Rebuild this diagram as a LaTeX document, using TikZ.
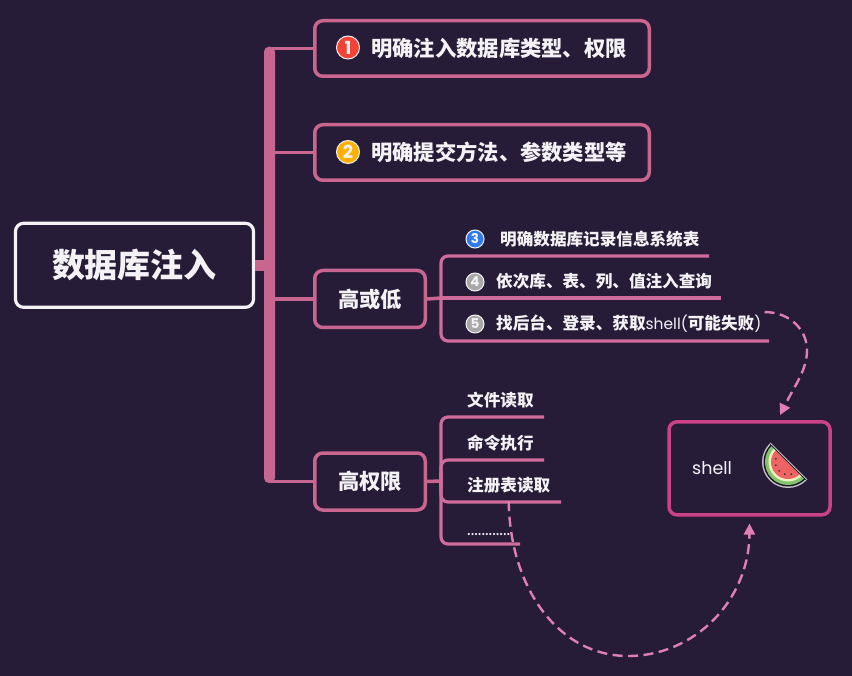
\documentclass[tikz,border=0pt]{standalone}
\usepackage{fontspec}
\setmainfont{Noto Sans CJK SC}
\newfontfamily\latinfont{Poppins}
\usetikzlibrary{positioning,calc,arrows.meta}
\definecolor{night}{HTML}{261C38}
\definecolor{paper}{HTML}{F4F2F5}
\definecolor{twigpink}{HTML}{C8668F}
\definecolor{leafpink}{HTML}{D06C9B}
\definecolor{shellpink}{HTML}{CB4288}
\definecolor{dashpink}{HTML}{E07FB4}
\definecolor{colone}{HTML}{F44336}
\definecolor{coltwo}{HTML}{FFB000}
\definecolor{colthree}{HTML}{2F7BEE}
\definecolor{colgrey}{HTML}{A8A8A8}
\definecolor{rindgreen}{HTML}{82C46C}
\definecolor{rindpale}{HTML}{EEF3BE}
\definecolor{melonred}{HTML}{EE6464}
\newcommand{\fsize}[1]{\fontsize{#1}{#1}\selectfont}
\tikzset{
  rootbox/.style={draw=paper,line width=3.2pt,fill=night,rounded corners=8pt,
    minimum width=238pt,minimum height=84pt,text=paper,font=\fsize{33}\bfseries},
  topicbox/.style={draw=twigpink,line width=3.5pt,fill=night,rounded corners=8pt,
    text=paper,font=\fsize{21.3}\bfseries,inner sep=0pt},
  twig/.style={draw=twigpink,line width=3.5pt},
  leafline/.style={draw=leafpink,line width=3.2pt,rounded corners=7pt},
  leaftext/.style={text=paper,font=\fsize{16.6}\bfseries,anchor=west,inner sep=0pt},
  numdot/.style={circle,draw=paper,line width=1pt,text=paper,inner sep=0pt,minimum size=18pt,
    font=\latinfont\bfseries\fsize{13.5}},
  bigdot/.style={numdot,minimum size=23pt,font=\latinfont\bfseries\fsize{18}},
  dashlink/.style={draw=dashpink,line width=2.4pt,dash pattern=on 10pt off 5.5pt,
    -{Triangle[length=11pt,width=11pt,fill=dashpink]}},
}

\begin{document}
\begin{tikzpicture}[x=1pt,y=-1pt]
  \useasboundingbox (0,0) rectangle (852,676);
  \fill[night] (0,0) rectangle (852,676);

  % --- Fixed joints ---
  \coordinate (spinetop) at (269.5,48.5);
  \coordinate (lowfork) at (441,298);
  \coordinate (highfork) at (441,481);

  % --- Main boxes ---
  \node[rootbox] (root) at (134.5,265.3) {数据库注入};
  \node[topicbox,minimum width=334.5pt,minimum height=55.5pt] (clear) at (482,48.5) {};
  \node[topicbox,minimum width=334.5pt,minimum height=55.5pt] (submit) at (482,152.5) {};
  \node[topicbox,minimum width=110.5pt,minimum height=57pt] (low) at (370,299) {高或低};
  \node[topicbox,minimum width=110.5pt,minimum height=57pt] (high) at (370,481.5) {高权限};
  \node[draw=shellpink,line width=3.5pt,rounded corners=8pt,minimum width=161pt,
    minimum height=93pt] (shellbox) at (749.5,468.3) {};

  % --- Spine and branches ---
  \fill[twigpink,rounded corners=5pt] (264,46.7) rectangle (275,483);
  \draw[twigpink,line width=11.5pt] (root.east) -- (root.east -| spinetop);
  \draw[twig] (clear.west) -- (clear.west -| spinetop);
  \draw[twig] (submit.west) -- (submit.west -| spinetop);
  \draw[twig] (low.west) -- (low.west -| spinetop);
  \draw[twig] (high.west) -- (high.west -| spinetop);

  % --- Texts of the two long boxes ---
  \node[bigdot,fill=colone] (dotone) at (348,47.5) {1};
  \node[leaftext,font=\fsize{21.3}\bfseries] (clearlabel) at (371,48) {明确注入数据库类型、权限};
  \node[bigdot,fill=coltwo] (dottwo) at (348,152) {2};
  \node[leaftext,font=\fsize{21.3}\bfseries] (submitlabel) at (371,152) {明确提交方法、参数类型等};

  % --- Leaves of the low branch ---
  \draw[twig] (low.east) -- (lowfork);
  \draw[leafline] (709,256) -- (441,256) -- (441,341) -- (769,341);
  \draw[leafline] (lowfork) -- (721,298);
  \node[numdot,fill=colthree] (dotthree) at (475,239) {3};
  \node[leaftext] (tables) at (500,239) {明确数据库记录信息系统表};
  \node[numdot,fill=colgrey] (dotfour) at (475,282) {4};
  \node[leaftext] (inject) at (496,281.5) {依次库、表、列、值注入查询};
  \node[numdot,fill=colgrey] (dotfive) at (475,324) {5};
  \node[leaftext] (backend) at (496,324) {找后台、登录、获取{\latinfont\mdseries\fsize{15.5}shell(}可能失败{\latinfont\mdseries\fsize{15.5})}};

  % --- Leaves of the high branch ---
  \draw[twig] (high.east) -- (highfork);
  \draw[leafline] (544,417) -- (441,417) -- (441,544) -- (520,544);
  \draw[leafline] (544,460) -- (441,460) -- (441,490);
  \draw[leafline] (561,502) -- (441,502) -- (441,472);
  \node[leaftext] (readfile) at (467,400) {文件读取};
  \node[leaftext] (runcmd) at (467,443) {命令执行};
  \node[leaftext] (regread) at (467,485) {注册表读取};
  \node[leaftext,font=\fsize{10.2}\bfseries] (dots) at (467,534.5) {............};

  % --- Shell box content ---
  \node[text=paper,font=\latinfont\fsize{17.5},inner sep=0pt,anchor=west] (shelltext) at (692,468) {shell};
  \coordinate (melon) at (788,462);
  \fill[colgrey!70!white] (melon)+(135:26pt) arc[start angle=135,end angle=315,radius=26pt] -- cycle;
  \fill[night!70!black] (melon)+(135:24.5pt) arc[start angle=135,end angle=315,radius=24.5pt] -- cycle;
  \fill[rindgreen] (melon)+(135:23pt) arc[start angle=135,end angle=315,radius=23pt] -- cycle;
  \fill[rindpale] (melon)+(135:19.5pt) arc[start angle=135,end angle=315,radius=19.5pt] -- cycle;
  \fill[melonred] (melon)+(135:17pt) arc[start angle=135,end angle=315,radius=17pt] -- cycle;
  \draw[night!70!black,line width=1pt] ($(melon)+(135:25pt)$) -- ($(melon)+(-45:25pt)$);
  \draw[colgrey!70!white,line width=.8pt] ($(melon)+(135:26pt)+(45:.9pt)$) -- ($(melon)+(-45:26pt)+(45:.9pt)$);
  \foreach \ang in {165,195,225,255,285}
    \fill[black!80] (melon)+(\ang:12.5pt) circle (1pt);

  % --- Dashed links ---
  \draw[dashlink] ([xshift=3pt,yshift=3pt]backend.north east) .. controls (790,312) and (807,330) .. (807,350)
    .. controls (807,370) and (795,385) .. ([xshift=30.5pt,yshift=5pt]shellbox.north);
  \draw[dashlink] ([yshift=-8pt]regread.south) .. controls (510,590) and (560,656) .. (628,656)
    .. controls (695,656) and (749,600) .. ([yshift=-7pt]shellbox.south);
\end{tikzpicture}
\end{document}
